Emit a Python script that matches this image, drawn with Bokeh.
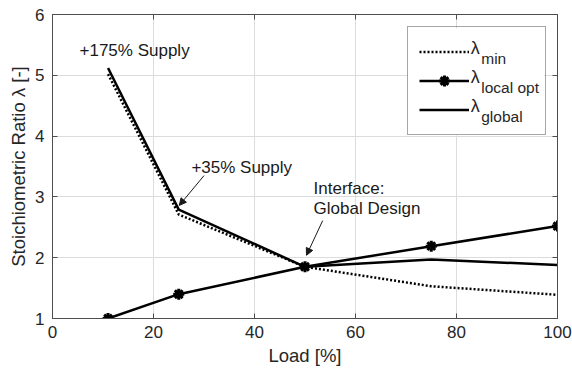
from bokeh.plotting import figure
from bokeh.models import (Legend, LegendItem, Label, Arrow, NormalHead, LinearAxis,
                          FixedTicker, Range1d, CustomJSTickFormatter, BoxAnnotation)
from bokeh.embed import file_html
from bokeh.resources import INLINE

# ---- data ----
load = [11, 25, 50, 75, 100]
lam_min = [5.02, 2.71, 1.85, 1.53, 1.39]
lam_local_opt = [1.0, 1.4, 1.85, 2.19, 2.52]
lam_global = [5.12, 2.79, 1.85, 1.97, 1.88]
x_ticks = [0, 20, 40, 60, 80, 100]
y_ticks = [1, 2, 3, 4, 5, 6]

FONT = "Liberation Sans"
TXT = "#262626"
AX = "#4d4d4d"

p = figure(width=572, height=378, output_backend="svg", toolbar_location=None,
           x_range=Range1d(0, 100), y_range=Range1d(1, 6),
           min_border_left=52, min_border_right=15, min_border_top=14, min_border_bottom=60,
           frame_width=505, frame_height=304)
p.background_fill_color = "white"
p.border_fill_color = "white"
p.outline_line_color = AX
p.outline_line_width = 1

for ax in (p.xaxis[0], p.yaxis[0]):
    ax.major_tick_in = 5
    ax.major_tick_out = 0
    ax.minor_tick_in = 0
    ax.minor_tick_out = 0
    ax.axis_line_color = AX
    ax.major_tick_line_color = AX
    ax.major_label_text_font = FONT
    ax.major_label_text_font_size = "17px"
    ax.major_label_text_color = TXT
    ax.axis_label_text_font = FONT
    ax.axis_label_text_font_size = "18.5px"
    ax.axis_label_text_font_style = "normal"
    ax.axis_label_text_color = TXT

p.xaxis[0].ticker = FixedTicker(ticks=x_ticks)
p.yaxis[0].ticker = FixedTicker(ticks=y_ticks)
p.xaxis[0].axis_label = "Load [%]"
p.yaxis[0].axis_label = "Stoichiometric Ratio λ [-]"
p.xaxis[0].major_label_standoff = 7
p.yaxis[0].major_label_standoff = 8
p.xaxis[0].axis_label_standoff = 4
p.yaxis[0].axis_label_standoff = 3

empty = CustomJSTickFormatter(code="return ''")
top = LinearAxis(ticker=FixedTicker(ticks=x_ticks), formatter=empty,
                 major_tick_in=5, major_tick_out=0, minor_tick_in=0, minor_tick_out=0,
                 axis_line_color=AX, major_tick_line_color=AX,
                 major_label_text_font_size="1px", major_label_standoff=0)
right = LinearAxis(ticker=FixedTicker(ticks=y_ticks), formatter=empty,
                   major_tick_in=5, major_tick_out=0, minor_tick_in=0, minor_tick_out=0,
                   axis_line_color=AX, major_tick_line_color=AX,
                   major_label_text_font_size="1px", major_label_standoff=0)
p.add_layout(top, "above")
p.add_layout(right, "right")

p.xgrid.ticker = FixedTicker(ticks=x_ticks)
p.ygrid.ticker = FixedTicker(ticks=y_ticks)
p.grid.grid_line_color = "#dcdcdc"
p.grid.grid_line_width = 1

# ---- series ----
r_min = p.line(load, lam_min, line_color="black", line_width=2.5, line_dash="2 2")
r_loc = p.line(load, lam_local_opt, line_color="black", line_width=2.5)
r_loc_m = p.scatter(load, lam_local_opt, marker="asterisk", size=11, line_width=3,
                    line_color="black")
r_glob = p.line(load, lam_global, line_color="black", line_width=2.5)

# ---- legend: white backing box, then texts, then transparent legend on top ----
p.add_layout(BoxAnnotation(left=70.3, right=97.4, top=5.77, bottom=4.01,
                           fill_color="white", fill_alpha=1.0, line_alpha=0))

lam_rows = [5.455, 4.98, 4.50]
sub_rows = [5.275, 4.80, 4.32]
subs = ["min", "local opt", "global"]
for ly, sy, s in zip(lam_rows, sub_rows, subs):
    p.add_layout(Label(x=82.8, y=ly, text="λ", text_font=FONT, text_font_size="18px",
                       text_color=TXT, text_baseline="middle", text_align="left"))
    p.add_layout(Label(x=84.9, y=sy, text=s, text_font=FONT, text_font_size="15.5px",
                       text_color=TXT, text_baseline="middle", text_align="left"))

legend = Legend(items=[LegendItem(label="", renderers=[r_min]),
                       LegendItem(label="", renderers=[r_loc, r_loc_m]),
                       LegendItem(label="", renderers=[r_glob])],
                location=(355, 183), orientation="vertical",
                glyph_width=50, glyph_height=27, label_height=27, label_width=60,
                label_standoff=5, padding=11, spacing=2, margin=0,
                border_line_color=AX, border_line_width=1,
                background_fill_alpha=0.0)
p.add_layout(legend, "center")

# ---- annotations ----
ann = dict(text_font=FONT, text_font_size="17px", text_color="#1a1a1a",
           text_baseline="middle", text_align="left")
p.add_layout(Label(x=5.35, y=5.41, text="+175% Supply", **ann))
p.add_layout(Label(x=27.5, y=3.48, text="+35% Supply", **ann))
p.add_layout(Label(x=51.7, y=3.14, text="Interface:", **ann))
p.add_layout(Label(x=51.7, y=2.81, text="Global Design", **ann))

p.add_layout(Arrow(end=NormalHead(size=7, fill_color="#1a1a1a", line_color="#1a1a1a"),
                   x_start=30.0, y_start=3.35, x_end=25.1, y_end=2.86,
                   line_color="#1a1a1a", line_width=1))
p.add_layout(Arrow(end=NormalHead(size=7, fill_color="#1a1a1a", line_color="#1a1a1a"),
                   x_start=53.5, y_start=2.61, x_end=50.3, y_end=2.04,
                   line_color="#1a1a1a", line_width=1))

open("out.html", "w").write(file_html(p, INLINE))
